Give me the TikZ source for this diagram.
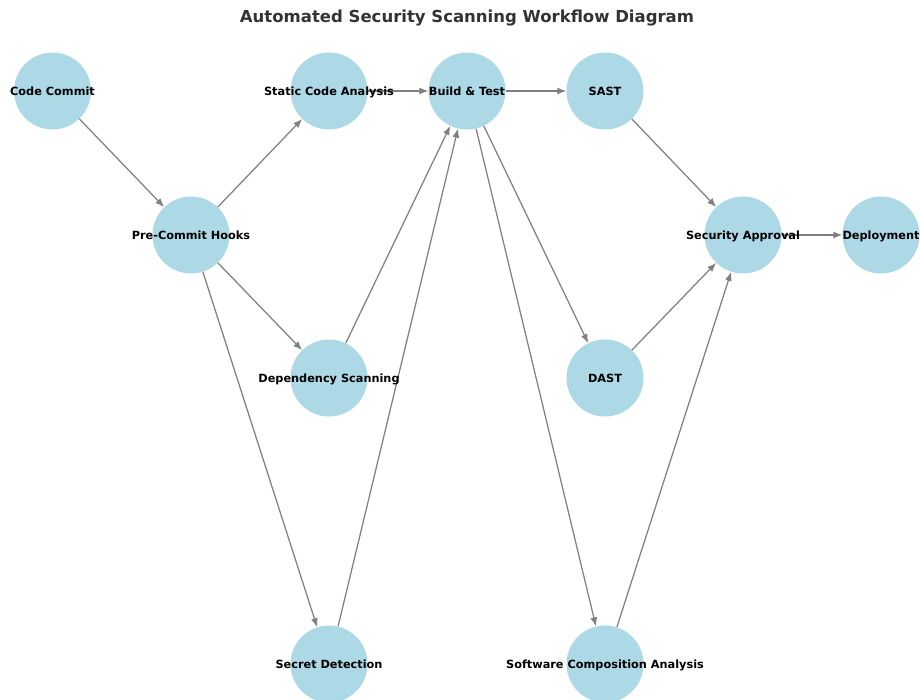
\documentclass[tikz,border=0pt]{standalone}
\usepackage{fontspec}
\setmainfont{DejaVu Sans}
\usetikzlibrary{arrows.meta}
\definecolor{nodeblue}{HTML}{ADD8E6}
\definecolor{titlegray}{HTML}{333333}
\definecolor{edgegray}{HTML}{808080}
\begin{document}
\begin{tikzpicture}[x=1pt,y=-1pt,
  stage/.style={circle,fill=nodeblue,minimum size=77pt,inner sep=0pt},
  stagetext/.style={font=\fontsize{11.3}{13}\selectfont\bfseries,text=black,inner sep=0pt,text height=8.3pt,text depth=2.3pt,yshift=-1.5pt},
  flow/.style={draw=edgegray,line width=1.25pt,-{Latex[length=9pt,width=7pt]}}]
\useasboundingbox (0,0) rectangle (920,700);

\node[font=\fontsize{16.5}{19}\selectfont\bfseries,text=titlegray] (title) at (467,18) {Automated Security Scanning Workflow Diagram};

% stage circles
\node[stage] (cc)  at (52.5,91)  {};
\node[stage] (pch) at (191,235)  {};
\node[stage] (sca) at (329,91)   {};
\node[stage] (ds)  at (329,378)  {};
\node[stage] (sd)  at (329,664)  {};
\node[stage] (bt)  at (467,91)   {};
\node[stage] (sast) at (605,91)  {};
\node[stage] (dast) at (605,378) {};
\node[stage] (swc) at (605,664)  {};
\node[stage] (sa)  at (743,235)  {};
\node[stage] (dep) at (881,235)  {};

% connectors
\draw[flow] (cc) -- (pch);
\draw[flow] (pch) -- (sca);
\draw[flow] (pch) -- (ds);
\draw[flow] (pch) -- (sd);
\draw[flow] (sca) -- (bt);
\draw[flow] (ds) -- (bt);
\draw[flow] (sd) -- (bt);
\draw[flow] (bt) -- (sast);
\draw[flow] (bt) -- (dast);
\draw[flow] (bt) -- (swc);
\draw[flow] (sast) -- (sa);
\draw[flow] (dast) -- (sa);
\draw[flow] (swc) -- (sa);
\draw[flow] (sa) -- (dep);

% labels
\node[stagetext] (tcc)  at (cc)   {Code Commit};
\node[stagetext] (tpch) at (pch)  {Pre-Commit Hooks};
\node[stagetext] (tsca) at (sca)  {Static Code Analysis};
\node[stagetext] (tds)  at (ds)   {Dependency Scanning};
\node[stagetext] (tsd)  at (sd)   {Secret Detection};
\node[stagetext] (tbt)  at (bt)   {Build \& Test};
\node[stagetext] (tsast) at (sast) {SAST};
\node[stagetext] (tdast) at (dast) {DAST};
\node[stagetext] (tswc) at (swc)  {Software Composition Analysis};
\node[stagetext] (tsa)  at (sa)   {Security Approval};
\node[stagetext] (tdep) at (dep)  {Deployment};
\end{tikzpicture}
\end{document}
